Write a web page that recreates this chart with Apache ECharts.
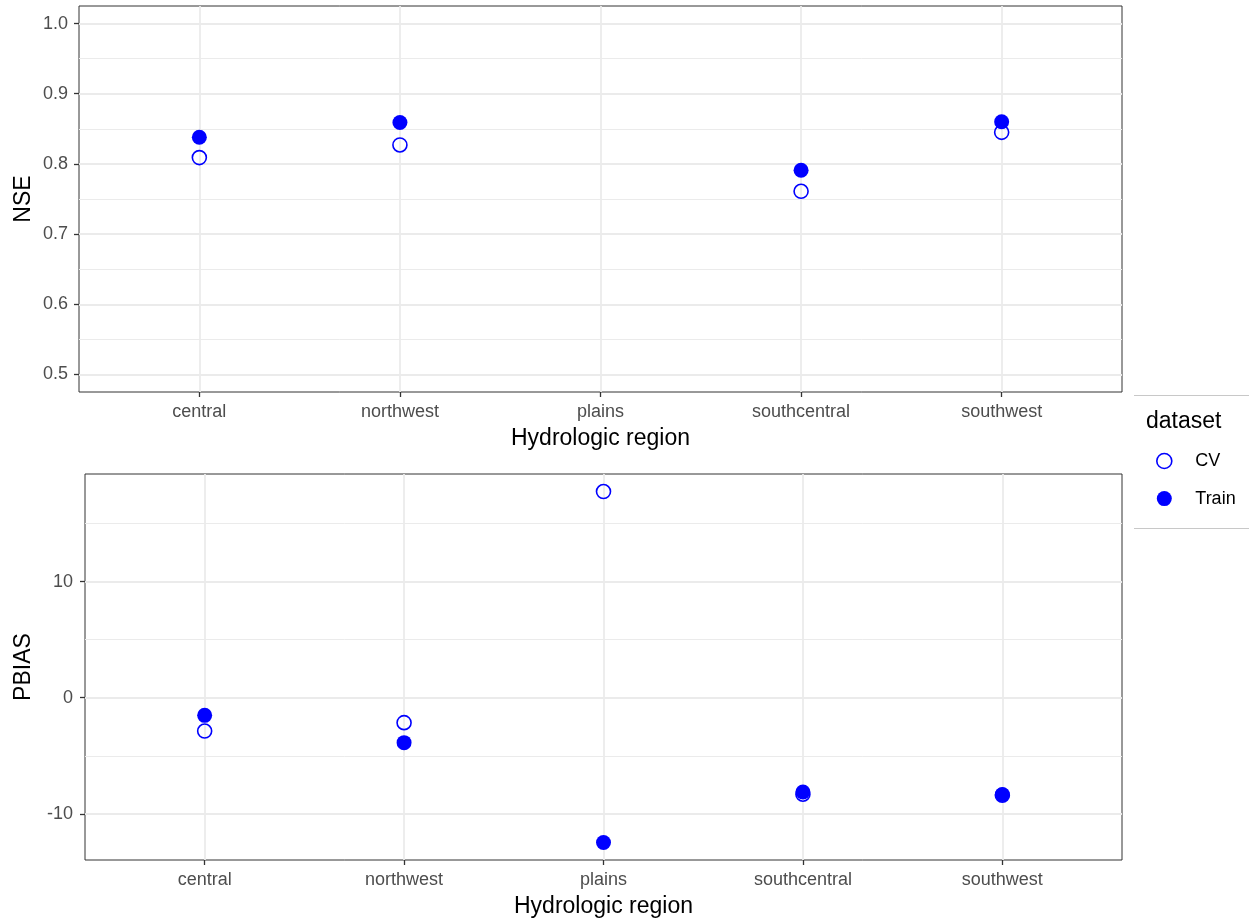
<!DOCTYPE html>
<html>
<head>
<meta charset="utf-8">
<title>NSE and PBIAS by hydrologic region</title>
<script src="https://cdn.jsdelivr.net/npm/echarts@6/dist/echarts.min.js"></script>
<style>
  html, body { margin: 0; padding: 0; background: #ffffff; }
  #chart { width: 1249px; height: 919px; }
</style>
</head>
<body>
<div id="chart"></div>
<script>
// Hydrologic regions on the x axis (both panels)
const regions = ['central', 'northwest', 'plains', 'southcentral', 'southwest'];

// Nash–Sutcliffe efficiency per region (plains has no value)
const nseCV    = [0.809, 0.827, null, 0.761, 0.845];
const nseTrain = [0.838, 0.859, null, 0.791, 0.860];

// Percent bias per region
const pbiasCV    = [-2.87, -2.15, 17.76, -8.31, -8.40];
const pbiasTrain = [-1.52, -3.87, -12.47, -8.12, -8.34];

// Axis tick labels
const nseTicks = [0.5, 0.6, 0.7, 0.8, 0.9, 1.0];
const pbiasTicks = [-10, 0, 10];

const FONT = "'Liberation Sans', Arial, sans-serif";
const BLUE = '#0000FF';
const GRID_COLOR = '#EBEBEB';

function points(vals) {
  const out = [];
  vals.forEach((v, i) => { if (v !== null && v !== undefined) out.push([i, v]); });
  return out;
}

// minor breaks halfway between major ticks, plus one step beyond each end
function minorBreaks(ticks, lo, hi) {
  const step = ticks[1] - ticks[0];
  const res = [];
  for (let i = -1; i < ticks.length; i++) {
    const m = ticks[0] + step * (i + 0.5);
    if (m > lo && m < hi) res.push(+m.toFixed(6));
  }
  return res;
}

const xIdx = regions.map((_, i) => i);
const nseLim = [0.475, 1.025];
const pbiasLim = [-13.98, 19.27];

function xAxisFor(gridIndex) {
  return {
    type: 'value', gridIndex: gridIndex, min: -0.6, max: 4.6,
    name: 'Hydrologic region', nameLocation: 'middle', nameGap: 35,
    nameTextStyle: { fontFamily: FONT, fontSize: 23, color: '#000000' },
    axisLine: { show: false, onZero: false },
    axisTick: { show: true, length: 5, customValues: xIdx, lineStyle: { color: '#333333', width: 1.3 } },
    axisLabel: {
      customValues: xIdx, margin: 11, fontFamily: FONT, fontSize: 18, color: '#4D4D4D',
      formatter: v => regions[Math.round(v)]
    },
    splitLine: { show: false }
  };
}

function yAxisFor(gridIndex, name, lim, ticks, fmt, gap, margin) {
  return {
    type: 'value', gridIndex: gridIndex, min: lim[0], max: lim[1],
    name: name, nameLocation: 'middle', nameGap: gap, nameMoveOverlap: false,
    nameTextStyle: { fontFamily: FONT, fontSize: 23, color: '#000000' },
    axisLine: { show: false, onZero: false },
    axisTick: { show: true, length: 5, customValues: ticks, lineStyle: { color: '#333333', width: 1.3 } },
    axisLabel: { customValues: ticks, margin: margin, fontFamily: FONT, fontSize: 18, color: '#4D4D4D', formatter: fmt },
    splitLine: { show: false }
  };
}

function gridLines(idx, ticks, lim) {
  const major = ticks.map(v => ({ yAxis: v, lineStyle: { width: 1.8 } }));
  const minor = minorBreaks(ticks, lim[0], lim[1]).map(v => ({ yAxis: v, lineStyle: { width: 1 } }));
  const vert = xIdx.map(v => ({ xAxis: v, lineStyle: { width: 1.8 } }));
  return {
    type: 'scatter', xAxisIndex: idx, yAxisIndex: idx, data: [], silent: true, z: 1,
    markLine: {
      silent: true, symbol: 'none', animation: false, z: 1,
      label: { show: false },
      lineStyle: { color: GRID_COLOR, type: 'solid' },
      data: minor.concat(major, vert)
    }
  };
}

function cvSeries(idx, vals) {
  return {
    name: 'CV', type: 'scatter', xAxisIndex: idx, yAxisIndex: idx, z: 10,
    symbol: 'circle', symbolSize: 14,
    itemStyle: { color: 'rgba(0,0,255,0)', borderColor: BLUE, borderWidth: 1.6, opacity: 1 },
    data: points(vals)
  };
}

function trainSeries(idx, vals) {
  return {
    name: 'Train', type: 'scatter', xAxisIndex: idx, yAxisIndex: idx, z: 11,
    symbol: 'circle', symbolSize: 15,
    itemStyle: { color: BLUE, opacity: 1 },
    data: points(vals)
  };
}

const chart = echarts.init(document.getElementById('chart'), null, { renderer: 'canvas' });

chart.setOption({
  animation: false,
  backgroundColor: '#ffffff',
  title: {
    text: 'dataset', left: 1146, top: 410, padding: 0,
    textStyle: { fontFamily: FONT, fontSize: 23, fontWeight: 'normal', color: '#000000' }
  },
  legend: {
    orient: 'vertical', left: 1156, top: 452, padding: 0,
    itemWidth: 52, itemHeight: 15, itemGap: 19.6,
    textStyle: { fontFamily: FONT, fontSize: 18, color: '#000000', lineHeight: 15 },
    data: [
      { name: 'CV', icon: 'circle', itemStyle: { color: '#ffffff', borderColor: BLUE, borderWidth: 1.6, opacity: 1 } },
      { name: 'Train', icon: 'circle', itemStyle: { color: BLUE, opacity: 1 } }
    ],
    selectedMode: false
  },
  graphic: [
    { type: 'line', shape: { x1: 1134, y1: 395.5, x2: 1249, y2: 395.5 }, style: { stroke: '#C8C8C8', lineWidth: 1 } },
    { type: 'line', shape: { x1: 1134, y1: 528.5, x2: 1249, y2: 528.5 }, style: { stroke: '#C8C8C8', lineWidth: 1 } }
  ],
  grid: [
    { left: 79, top: 6, width: 1043, height: 386, show: true, backgroundColor: '#ffffff', borderColor: '#333333', borderWidth: 1 },
    { left: 85, top: 474, width: 1037, height: 386, show: true, backgroundColor: '#ffffff', borderColor: '#333333', borderWidth: 1 }
  ],
  xAxis: [xAxisFor(0), xAxisFor(1)],
  yAxis: [
    yAxisFor(0, 'NSE', nseLim, nseTicks, v => v.toFixed(1), 44, 11),
    yAxisFor(1, 'PBIAS', pbiasLim, pbiasTicks, v => String(Math.round(v)), 50, 12)
  ],
  series: [
    gridLines(0, nseTicks, nseLim),
    gridLines(1, pbiasTicks, pbiasLim),
    cvSeries(0, nseCV),
    trainSeries(0, nseTrain),
    cvSeries(1, pbiasCV),
    trainSeries(1, pbiasTrain)
  ]
});
</script>
</body>
</html>
